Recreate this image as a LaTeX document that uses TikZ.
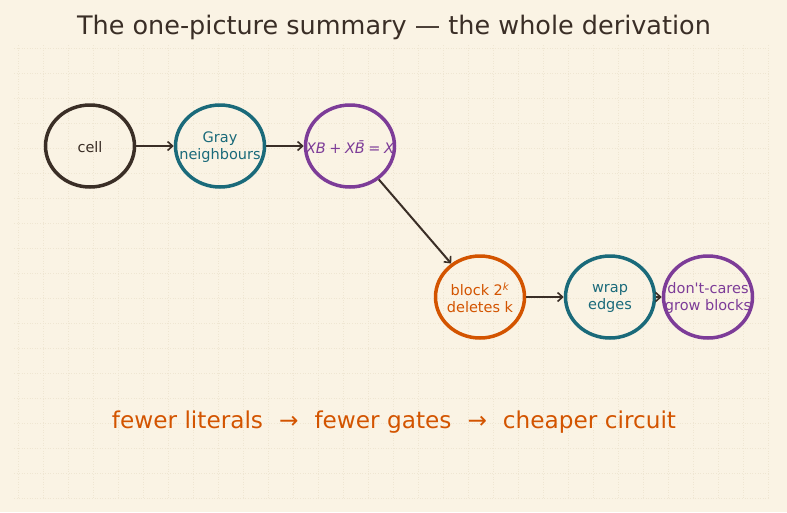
\documentclass[tikz,border=0pt]{standalone}
\usepackage{fontspec}
\setmainfont{DejaVu Sans}
\usetikzlibrary{shapes.geometric,arrows.meta}
\definecolor{bg}{HTML}{FAF3E4}
\definecolor{ink}{HTML}{3A2E26}
\definecolor{tealc}{HTML}{1A6A7A}
\definecolor{purp}{HTML}{7D3C98}
\definecolor{orng}{HTML}{D35400}
\definecolor{gridc}{HTML}{EFE6D2}
\tikzset{
  bubble/.style={ellipse, draw, line width=3.5pt, minimum width=89pt, minimum height=82pt,
    inner sep=0pt},
  inside/.style={align=center, inner sep=0pt, yshift=-1pt, font=\fontsize{14.5}{17}\selectfont},
  link/.style={draw=ink, line width=2pt, -{Straight Barb[length=5pt,width=9pt,line width=1.6pt]}}
}
\begin{document}
\begin{tikzpicture}[x=1pt,y=-1pt]
\fill[bg] (0,0) rectangle (787,512);
\useasboundingbox (0,0) rectangle (787,512);
\foreach \x in {18,43,...,768} \draw[gridc, line width=0.6pt, dotted] (\x,45) -- (\x,498);
\foreach \y in {48,73,...,498} \draw[gridc, line width=0.6pt, dotted] (14,\y) -- (770,\y);
\node[text=ink, font=\fontsize{25.5}{30}\selectfont] (title) at (394,27.5) {The one-picture summary — the whole derivation};
\node[bubble, draw=ink, label={[inside, text=ink]center:cell}] (cell) at (90,146) {};
\node[bubble, draw=tealc, label={[inside, text=tealc]center:Gray\\neighbours}] (gray) at (220,146) {};
\node[bubble, draw=purp, label={[inside, text=purp]center:{\itshape XB\upshape\hspace{3.5pt}+\hspace{3.5pt}\itshape X\={B}\upshape\hspace{3.5pt}=\hspace{3.5pt}\itshape X}}] (xb) at (350,146) {};
\node[bubble, draw=orng, label={[inside, text=orng]center:block 2\textsuperscript{\itshape k}\\deletes k}] (block) at (480,297) {};
\node[bubble, draw=tealc, label={[inside, text=tealc]center:wrap\\edges}] (wrap) at (610,297) {};
\node[bubble, draw=purp, label={[inside, text=purp]center:don\textquotesingle t-cares\\grow blocks}] (dc) at (708,297) {};
\draw[link] (cell) -- (gray);
\draw[link] (gray) -- (xb);
\draw[link] (xb) -- (block);
\draw[link] (block) -- (wrap);
\draw[link] (wrap) -- (dc);
\node[text=orng, font=\fontsize{23.2}{28}\selectfont] (summary) at (394,422.5) {fewer literals\hspace{16pt}→\hspace{16pt}fewer gates\hspace{16pt}→\hspace{16pt}cheaper circuit};
\end{tikzpicture}
\end{document}
